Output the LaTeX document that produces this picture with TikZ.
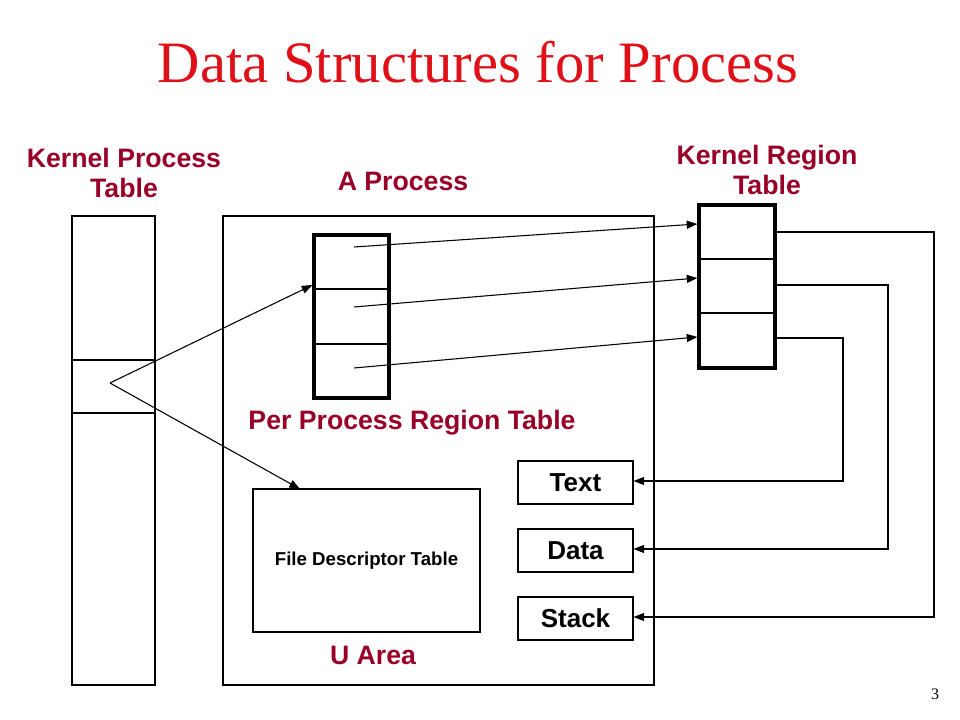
\documentclass[tikz,border=0pt]{standalone}
\usepackage{fontspec}
\setmainfont{Liberation Serif}
\newfontfamily\arialfont{Liberation Sans}
\usetikzlibrary{fit,arrows.meta}
\definecolor{titlered}{RGB}{224,16,24}
\definecolor{labelred}{RGB}{153,0,40}
\begin{document}
\begin{tikzpicture}[x=0.75pt,y=-0.75pt,
  thinbox/.style={draw=black,line width=0.8pt,inner sep=0pt},
  thickbox/.style={draw=black,line width=2.4pt,inner sep=0pt},
  thinline/.style={draw=black,line width=0.8pt},
  arr/.style={thinline,-{Triangle[length=8pt,width=6pt]}},
  redlabel/.style={font=\arialfont\bfseries\fontsize{20}{23}\selectfont,text=labelred,align=center},
  seglabel/.style={font=\arialfont\bfseries\fontsize{19.5}{22}\selectfont,text=black}]
\useasboundingbox (0,0) rectangle (960,720);
% title
\node[font=\fontsize{44}{50}\selectfont,text=titlered] (title) at (478,62) {Data Structures for Process};
\node[font=\fontsize{12}{14}\selectfont] (pagenum) at (935,694) {3};
% labels
\node[redlabel] (lkpt) at (124,173) {Kernel Process\\Table};
\node[redlabel] (lproc) at (403,181) {A Process};
\node[redlabel] (lkrt) at (767,170) {Kernel Region\\Table};
\node[redlabel] (lpprt) at (412,423) {Per Process Region Table};
\node[redlabel] (luarea) at (373,655) {U Area};
% kernel process table
\node[thinbox,fit={(72,216)(155,685)}] (kpt) {};
\draw[thinline] (72,360) -- (155,360);
\draw[thinline] (72,413) -- (155,413);
% process box
\node[thinbox,fit={(223,216)(654,685)}] (proc) {};
% per process region table
\node[thickbox,fit={(314,235)(389,398)}] (pprt) {};
\draw[thinline] (314,289) -- (389,289);
\draw[thinline] (314,344) -- (389,344);
% kernel region table
\node[thickbox,fit={(699,205)(775,368)}] (krt) {};
\draw[thinline] (699,259) -- (775,259);
\draw[thinline] (699,313) -- (775,313);
% file descriptor table
\node[thinbox,fit={(253,489)(480,632)}] (fdt) {};
\node[font=\arialfont\bfseries\fontsize{14}{16}\selectfont] (fdtlabel) at (fdt.center) {File Descriptor Table};
% segments
\node[thinbox,fit={(518,461)(633,504)}] (text) {};
\node[seglabel] at (text.center) {Text};
\node[thinbox,fit={(518,529)(633,572)}] (data) {};
\node[seglabel] at (data.center) {Data};
\node[thinbox,fit={(518,597)(633,640)}] (stack) {};
\node[seglabel] at (stack.center) {Stack};
% pointers from kernel process table entry
\coordinate (p0) at (110,383);
\draw[arr] (p0) -- (pprt.west |- 0,285);
\draw[arr] (p0) -- (300,489);
% per process region -> kernel region
\coordinate (r1) at (354,247);
\coordinate (r2) at (354,307);
\coordinate (r3) at (354,368);
\draw[arr] (r1) -- (krt.west |- 0,224);
\draw[arr] (r2) -- (krt.west |- 0,278);
\draw[arr] (r3) -- (krt.west |- 0,337);
% kernel region -> segments
\draw[arr] (krt.east |- 0,232) -- (934,232) -- (934,617) -- (stack.east |- 0,617);
\draw[arr] (krt.east |- 0,285) -- (888,285) -- (888,549) -- (data.east |- 0,549);
\draw[arr] (krt.east |- 0,338) -- (843,338) -- (843,481) -- (text.east |- 0,481);
\end{tikzpicture}
\end{document}
